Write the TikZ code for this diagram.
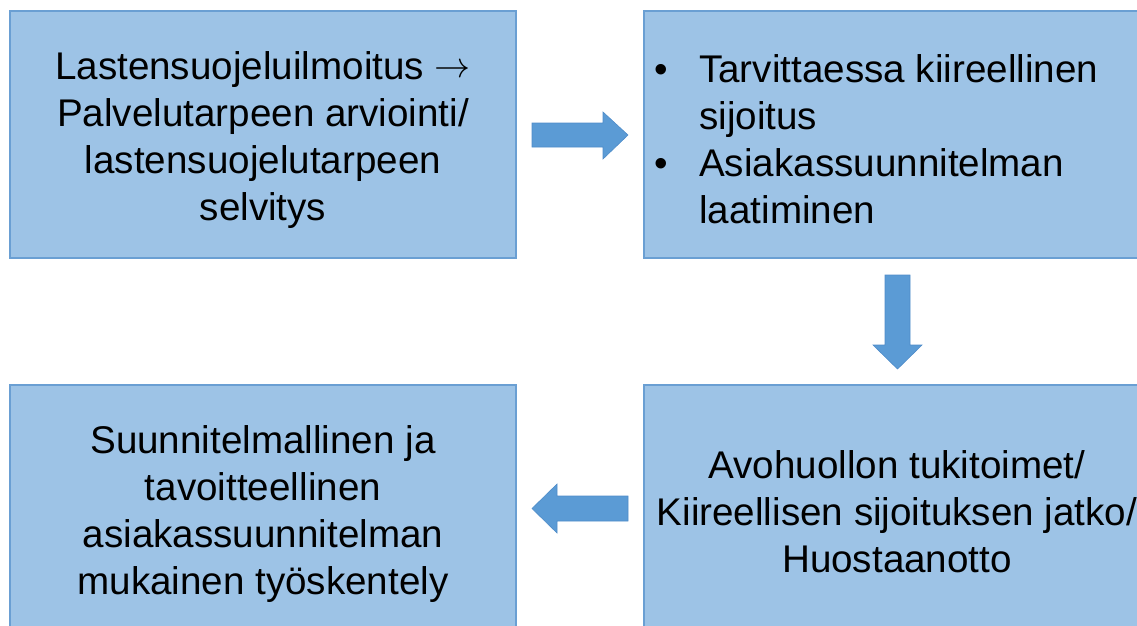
\documentclass[tikz,border=0pt]{standalone}
\usepackage{fontspec}
\setmainfont{Liberation Sans}
\definecolor{boxfill}{HTML}{9DC3E6}
\definecolor{boxline}{HTML}{6A9FD3}
\definecolor{arrowfill}{HTML}{5B9BD5}
\definecolor{arrowline}{HTML}{4F8CC9}
\newcommand{\bigarr}{\raisebox{2pt}{\resizebox{36pt}{!}{$\rightarrow$}}}
\begin{document}
\begin{tikzpicture}[x=1pt,y=-1pt,
  box/.style={draw=boxline, line width=1.2pt, fill=boxfill, minimum width=506pt, minimum height=247pt, inner sep=0pt},
  txt/.style={font=\fontsize{38.6}{47}\selectfont, align=center, inner sep=0pt, text=black},
  txtl/.style={font=\fontsize{38.6}{47}\selectfont, align=left, inner sep=0pt, text=black},
  blockarrow/.style={fill=arrowfill, draw=arrowline, line width=0.6pt}]
\useasboundingbox (0,0) rectangle (1137,625);
\clip (0,0) rectangle (1137,625);
\node[box] (b1) at (263,134.5) {};
\node[box] (b2) at (897,134.5) {};
\node[box] (b3) at (263,508.5) {};
\node[box] (b4) at (897,508.5) {};
\node[txt] (t1) at (263,140) {Lastensuojeluilmoitus \bigarr\\Palvelutarpeen arviointi/\\lastensuojelutarpeen\\selvitys};
\node[txtl, anchor=west] (t2) at (654,139) {\makebox[45pt][l]{•}Tarvittaessa kiireellinen\\\hspace*{45pt}sijoitus\\\makebox[45pt][l]{•}Asiakassuunnitelman\\\hspace*{45pt}laatiminen};
\node[txt] (t3) at (263,514) {Suunnitelmallinen ja\\tavoitteellinen\\asiakassuunnitelman\\mukainen työskentely};
\node[txt] (t4) at (897,512) {Avohuollon tukitoimet/\\Kiireellisen sijoituksen jatko/\\Huostaanotto};
% block arrows
\draw[blockarrow] (532,123) -- (603,123) -- (603,112) -- (628,135) -- (603,159) -- (603,147) -- (532,147) -- cycle;
\draw[blockarrow] (885,275) -- (910,275) -- (910,345) -- (922,345) -- (897.5,369) -- (873,345) -- (885,345) -- cycle;
\draw[blockarrow] (628,496) -- (557,496) -- (557,484) -- (532,508.5) -- (557,533) -- (557,521) -- (628,521) -- cycle;
\end{tikzpicture}
\end{document}
